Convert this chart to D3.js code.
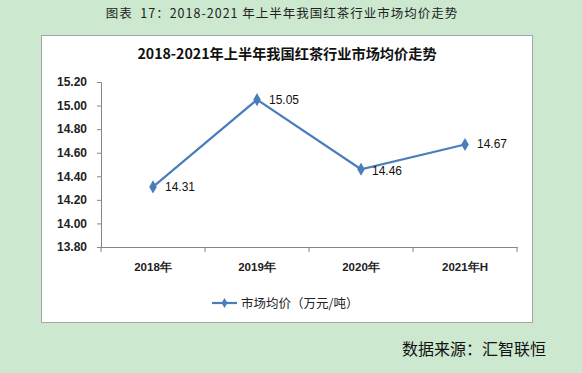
<!DOCTYPE html>
<html>
<head>
<meta charset="utf-8">
<script src="https://cdn.jsdelivr.net/npm/d3@7"></script>
<style>
  body { margin: 0; background: #cce8cf; }
  svg { display: block; font-family: "Noto Sans CJK SC", "DejaVu Sans", sans-serif; }
</style>
</head>
<body>
<div id="chart"></div>
<script>
  // data
  var years = ["2018年", "2019年", "2020年", "2021年H"];
  var prices = [14.31, 15.05, 14.46, 14.67];
  var yTicks = [13.80, 14.00, 14.20, 14.40, 14.60, 14.80, 15.00, 15.20];

  var W = 582, H = 373;
  var svg = d3.select("#chart").append("svg")
      .attr("width", W).attr("height", H);

  // figure caption
  svg.append("text").attr("x", 282).attr("y", 18)
     .attr("xml:space", "preserve")
     .attr("text-anchor", "middle").style("font-size", "12.5px").style("letter-spacing", "1px")
     .attr("fill", "#222")
     .text("图表  17：2018-2021 年上半年我国红茶行业市场均价走势");

  // white chart box
  svg.append("rect").attr("x", 41.5).attr("y", 35.5).attr("width", 491).attr("height", 287)
     .attr("fill", "#fff").attr("stroke", "#a6a6a6");

  svg.append("text").attr("x", 287).attr("y", 59)
     .attr("text-anchor", "middle").style("font-size", "14.2px").style("font-weight", "bold")
     .attr("fill", "#111")
     .text("2018-2021年上半年我国红茶行业市场均价走势");

  var margin = {left: 101, right: 517, top: 82, bottom: 247};

  var x = d3.scaleBand().domain(years).range([margin.left, margin.right]);
  var y = d3.scaleLinear().domain([13.8, 15.2]).range([margin.bottom, margin.top]);

  var yAxis = svg.append("g").attr("transform", "translate(" + margin.left + ",0)")
     .call(d3.axisLeft(y).tickValues(yTicks).tickSize(4).tickPadding(10).tickFormat(d3.format(".2f")));
  yAxis.select(".domain").attr("stroke", "#868686");
  yAxis.selectAll(".tick line").attr("stroke", "#868686");
  yAxis.selectAll(".tick text").style("font-size", "12px").style("font-weight", "bold")
     .style("font-family", "'Liberation Sans', sans-serif").attr("fill", "#222");

  var xAxis = svg.append("g").attr("transform", "translate(0," + margin.bottom + ")")
     .call(d3.axisBottom(x).tickSize(0).tickPadding(16));
  xAxis.select(".domain").attr("stroke", "#868686");
  xAxis.selectAll(".tick text").style("font-size", "11.5px").style("font-weight", "bold").attr("fill", "#222");
  // tick marks between categories
  xAxis.selectAll("line.sep")
     .data(years.concat(["end"]))
     .enter().append("line").attr("class", "sep")
     .attr("x1", function(d, i) { return margin.left + i * x.step(); })
     .attr("x2", function(d, i) { return margin.left + i * x.step(); })
     .attr("y1", 0).attr("y2", 5).attr("stroke", "#868686");

  var blue = "#4a7ebb";
  var line = d3.line()
     .x(function(d, i) { return x(years[i]) + x.bandwidth() / 2; })
     .y(function(d) { return y(d); });

  svg.append("path").datum(prices).attr("d", line)
     .attr("fill", "none").attr("stroke", blue).attr("stroke-width", 2.2);

  var diamond = d3.symbol().type(d3.symbolDiamond).size(50);
  svg.selectAll("path.pt").data(prices).enter().append("path").attr("class", "pt")
     .attr("d", diamond)
     .attr("transform", function(d, i) { return "translate(" + (x(years[i]) + x.bandwidth() / 2) + "," + y(d) + ")"; })
     .attr("fill", blue);

  // data labels
  var dy = [4, 4, 6, 4];
  svg.selectAll("text.lbl").data(prices).enter().append("text").attr("class", "lbl")
     .attr("x", function(d, i) { return x(years[i]) + x.bandwidth() / 2 + (i == 2 ? 11 : 12); })
     .attr("y", function(d, i) { return y(d) + dy[i]; })
     .style("font-size", "12px").style("font-family", "'Liberation Sans', sans-serif")
     .attr("fill", "#111")
     .text(function(d) { return d3.format(".2f")(d); });

  // legend
  svg.append("line").attr("x1", 212).attr("x2", 237).attr("y1", 303).attr("y2", 303)
     .attr("stroke", blue).attr("stroke-width", 2.2);
  svg.append("path").attr("d", d3.symbol().type(d3.symbolDiamond).size(30))
     .attr("transform", "translate(224.5,303)").attr("fill", blue);
  svg.append("text").attr("x", 241).attr("y", 307.5).style("font-size", "12.5px").attr("fill", "#222")
     .text("市场均价（万元/吨）");

  // source
  svg.append("text").attr("x", 546).attr("y", 355).attr("text-anchor", "end")
     .style("font-size", "16px").attr("fill", "#111")
     .text("数据来源：汇智联恒");
</script>
</body>
</html>
